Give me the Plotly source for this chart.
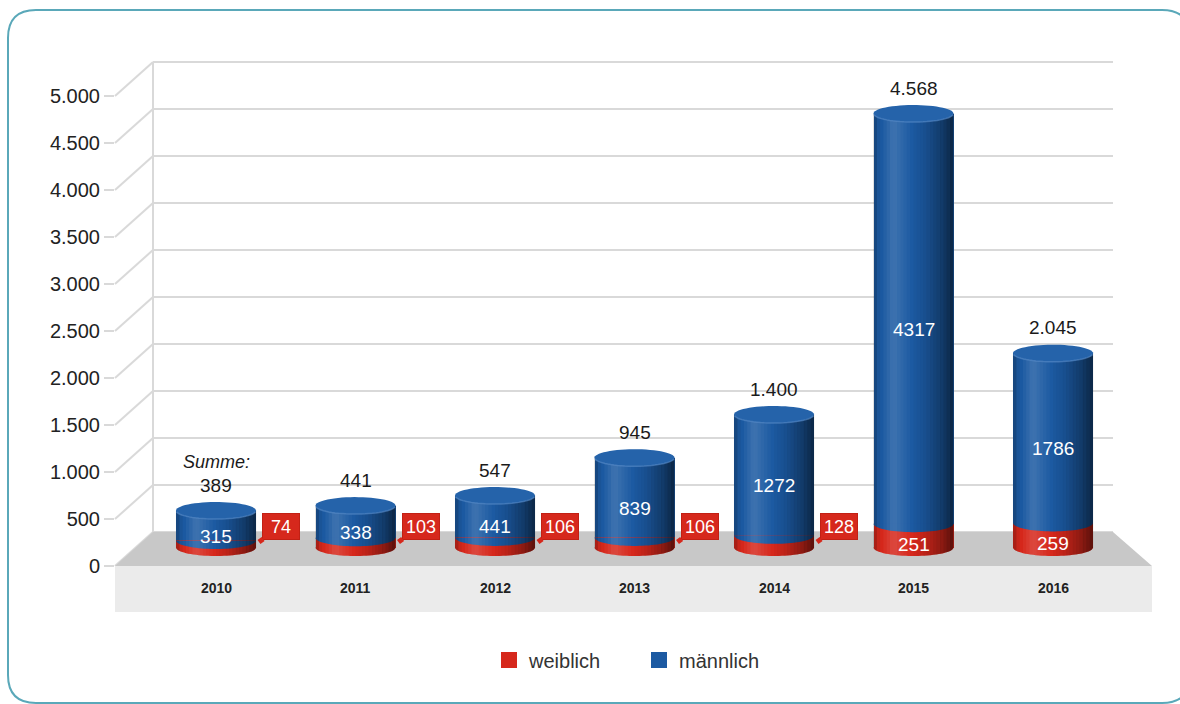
import numpy as np
import plotly.graph_objects as go

# ---- data ----
years = [2010, 2011, 2012, 2013, 2014, 2015, 2016]
weiblich = [74, 103, 106, 106, 128, 251, 259]
maennlich = [315, 338, 441, 839, 1272, 4317, 1786]
summe = [389, 441, 547, 945, 1400, 4568, 2045]
tick_vals = [0, 500, 1000, 1500, 2000, 2500, 3000, 3500, 4000, 4500, 5000]
series_names = ["weiblich", "männlich"]

# ---- geometry (pixels) ----
FIG_W, FIG_H = 1180, 704
PLOT_L, PLOT_R, PLOT_T, PLOT_B = 115, 1160, 40, 620
X0_PX, X_STEP = 216, 139.5            # centre of first category, category spacing
BAR_ZERO_PX, BAR_SCALE = 547.5, 0.095  # cylinder axis: pixel of 0, px per unit
AXIS_ZERO_PX, AXIS_SCALE = 566, 0.094  # front value axis
DEPTH_PX, WALL_DX = 34, 38             # 3D depth of floor / wall
BAR_PX = 80
CAP_PX = 8.5

BLUE = "#1c5aa2"
BLUE_CAP = "#2563aa"
RED = "#d6281c"
GRID = "#d9d9d9"
FONT = "Liberation Sans, Arial, sans-serif"


def px_x(p):
    return (p - PLOT_L) / (PLOT_R - PLOT_L)


def px_y(p):
    return (PLOT_B - p) / (PLOT_B - PLOT_T)


def de(n):
    return f"{n:,}".replace(",", ".")


x_range = [years[0] + (PLOT_L - X0_PX) / X_STEP, years[0] + (PLOT_R - X0_PX) / X_STEP]
y_range = [-(PLOT_B - BAR_ZERO_PX) / BAR_SCALE, (BAR_ZERO_PX - PLOT_T) / BAR_SCALE]
y2_range = [-(PLOT_B - AXIS_ZERO_PX) / AXIS_SCALE, (AXIS_ZERO_PX - PLOT_T) / AXIS_SCALE]

BAR_W = BAR_PX / X_STEP
RX = BAR_W / 2
RY = CAP_PX / BAR_SCALE
DEPTH = DEPTH_PX / AXIS_SCALE

fig = go.Figure()

fig.add_trace(go.Bar(x=years, y=weiblich, width=BAR_W, marker=dict(color=RED, line_width=0),
                     showlegend=False, hoverinfo="skip"))
fig.add_trace(go.Bar(x=years, y=maennlich, width=BAR_W, marker=dict(color=BLUE, line_width=0),
                     showlegend=False, hoverinfo="skip"))

# legend entries
for name, col in zip(series_names, [RED, BLUE]):
    fig.add_trace(go.Scatter(x=[None], y=[None], mode="markers", name=name,
                             marker=dict(symbol="square", size=16, color=col)))

shapes = []

# ---- back wall, grid and floor ----
for v in tick_vals:
    shapes.append(dict(type="line", layer="below", xref="paper", yref="y2",
                       x0=px_x(PLOT_L), y0=v, x1=px_x(PLOT_L + WALL_DX), y1=v + DEPTH,
                       line=dict(color=GRID, width=2)))
    shapes.append(dict(type="line", layer="below", xref="paper", yref="y2",
                       x0=px_x(PLOT_L + WALL_DX), y0=v + DEPTH, x1=px_x(1113), y1=v + DEPTH,
                       line=dict(color=GRID, width=2)))
shapes.append(dict(type="line", layer="below", xref="paper", yref="y2",
                   x0=px_x(PLOT_L + WALL_DX), y0=DEPTH, x1=px_x(PLOT_L + WALL_DX), y1=tick_vals[-1] + DEPTH,
                   line=dict(color=GRID, width=2)))

floor = (f"M{px_x(PLOT_L)},0 L{px_x(PLOT_L + WALL_DX)},{DEPTH} "
         f"L{px_x(1113)},{DEPTH} L{px_x(1152)},0 Z")
shapes.append(dict(type="path", layer="below", xref="paper", yref="y2", path=floor,
                   fillcolor="#c8c8c8", line_width=0))
shapes.append(dict(type="rect", layer="below", xref="paper", yref="paper",
                   x0=px_x(PLOT_L), x1=px_x(1152), y0=px_y(612), y1=px_y(AXIS_ZERO_PX),
                   fillcolor="#ebebeb", line_width=0))

# ---- outer rounded frame ----
l, t, r, b, rad = 8, 10, 1190, 703, 28


def P(a, c):
    return f"{px_x(a):.5f},{px_y(c):.5f}"


frame = (f"M{P(l + rad, t)} L{P(r - rad, t)} Q{P(r, t)} {P(r, t + rad)} "
         f"L{P(r, b - rad)} Q{P(r, b)} {P(r - rad, b)} L{P(l + rad, b)} "
         f"Q{P(l, b)} {P(l, b - rad)} L{P(l, t + rad)} Q{P(l, t)} {P(l + rad, t)} Z")
shapes.append(dict(type="path", layer="below", xref="paper", yref="paper", path=frame,
                   line=dict(color="#5aa8b9", width=2), fillcolor="rgba(0,0,0,0)"))


# ---- cylinder decoration ----
def arc_pts(cx, cy, a0, a1, n=40):
    a = np.linspace(a0, a1, n)
    return cx + RX * np.cos(a), cy + RY * np.sin(a)


def path_from(xs, ys):
    pts = " L".join(f"{x:.5f},{y:.3f}" for x, y in zip(xs, ys))
    return "M" + pts + " Z"


def arc_bottom(cx, cy, x):
    u = np.clip((x - cx) / RX, -1, 1)
    return cy - RY * np.sqrt(1 - u ** 2)


shade_t = [0.0, 0.07, 0.25, 0.42, 0.65, 0.85, 1.0]
shade_v = [-0.28, -0.04, 0.15, 0.04, -0.12, -0.34, -0.58]
N_STRIPS = 24

for yr, w, s in zip(years, weiblich, summe):
    xs, ys = arc_pts(yr, 0, np.pi, 2 * np.pi)
    shapes.append(dict(type="path", layer="above", xref="x", yref="y",
                       path=path_from(xs, ys), fillcolor=RED, line_width=0))
    xs, ys = arc_pts(yr, w, np.pi, 2 * np.pi)
    shapes.append(dict(type="path", layer="above", xref="x", yref="y",
                       path=path_from(xs, ys), fillcolor=BLUE, line_width=0))
    edges = np.linspace(yr - RX, yr + RX, N_STRIPS + 1)
    for i in range(N_STRIPS):
        xa, xb = edges[i], edges[i + 1]
        tm = (i + 0.5) / N_STRIPS
        v = float(np.interp(tm, shade_t, shade_v))
        col = f"rgba(255,255,255,{v:.3f})" if v > 0 else f"rgba(0,0,0,{-v:.3f})"
        bx = np.linspace(xa, xb, 4)
        by = arc_bottom(yr, 0, bx)
        px_ = list(bx) + [xb + 0.0005, xa - 0.0005]
        py_ = list(by) + [s, s]
        px_[0] -= 0.0005
        px_[3] += 0.0005
        shapes.append(dict(type="path", layer="above", xref="x", yref="y",
                           path=path_from(px_, py_), fillcolor=col, line_width=0))
    xs, ys = arc_pts(yr, s, 0, 2 * np.pi, 60)
    shapes.append(dict(type="path", layer="above", xref="x", yref="y",
                       path=path_from(xs, ys), fillcolor=BLUE_CAP, line_width=0))
    xs, ys = arc_pts(yr, s, np.pi * 1.05, np.pi * 1.95, 30)
    shapes.append(dict(type="path", layer="above", xref="x", yref="y",
                       path="M" + " L".join(f"{x:.5f},{y:.3f}" for x, y in zip(xs, ys)),
                       line=dict(color="rgba(90,140,200,0.6)", width=1.5)))

# ---- labels ----
ann = []
for k, (yr, w, m, s) in enumerate(zip(years, weiblich, maennlich, summe)):
    ann.append(dict(x=yr, y=s, xref="x", yref="y", text=de(s), showarrow=False,
                    yanchor="middle", yshift=CAP_PX + 17,
                    font=dict(size=19, color="#1a1a1a", family=FONT)))
    if k == 0:
        ann.append(dict(x=yr, y=s, xref="x", yref="y", text="<i>Summe:</i>", showarrow=False,
                        yanchor="middle", yshift=CAP_PX + 40,
                        font=dict(size=18, color="#1a1a1a", family=FONT)))
    ann.append(dict(x=yr, y=(w + s) / 2, xref="x", yref="y", text=str(m), showarrow=False,
                    yanchor="middle", yshift=-(CAP_PX + 2),
                    font=dict(size=19, color="white", family=FONT)))
    if w * BAR_SCALE >= 18:
        ann.append(dict(x=yr, y=w / 2, xref="x", yref="y", text=str(w), showarrow=False,
                        yanchor="middle", yshift=-CAP_PX,
                        font=dict(size=19, color="white", family=FONT)))
    else:
        tip_x = yr + (BAR_PX / 2 + 3) / X_STEP
        tip_y = (BAR_ZERO_PX - 542) / BAR_SCALE
        ann.append(dict(x=tip_x, y=tip_y, xref="x", yref="y", text=str(w),
                        showarrow=True, arrowhead=0, arrowwidth=5, arrowcolor=RED,
                        ax=22, ay=-16, standoff=0,
                        bgcolor=RED, bordercolor="#c22014", borderwidth=1, borderpad=3,
                        width=30, height=19,
                        font=dict(size=18, color="white", family=FONT)))
    ann.append(dict(x=yr, y=px_y(588), xref="x", yref="paper", text=f"<b>{yr}</b>",
                    showarrow=False, yanchor="middle",
                    font=dict(size=14, color="#222222", family=FONT)))

fig.update_layout(
    width=FIG_W, height=FIG_H, autosize=False,
    margin=dict(l=PLOT_L, r=FIG_W - PLOT_R, t=PLOT_T, b=FIG_H - PLOT_B, pad=0),
    paper_bgcolor="white", plot_bgcolor="rgba(0,0,0,0)",
    barmode="stack", bargap=0,
    separators=",.",
    font=dict(family=FONT),
    xaxis=dict(range=x_range, visible=False, fixedrange=True),
    yaxis=dict(range=y_range, visible=False, fixedrange=True),
    yaxis2=dict(range=y2_range, overlaying="y", side="left", anchor="x",
                tickvals=tick_vals, tickformat=",d", ticks="outside", ticklen=10,
                tickwidth=2, tickcolor=GRID, showgrid=False, zeroline=False,
                showline=False, fixedrange=True,
                tickfont=dict(size=20, color="#222222", family=FONT)),
    shapes=shapes,
    annotations=ann,
    legend=dict(orientation="h", traceorder="normal",
                x=px_x(489), xanchor="left", y=px_y(660), yanchor="middle",
                font=dict(size=20, color="#333333", family=FONT), entrywidth=105,
                bgcolor="rgba(0,0,0,0)"),
    showlegend=True,
)

fig.write_html("out.html")
